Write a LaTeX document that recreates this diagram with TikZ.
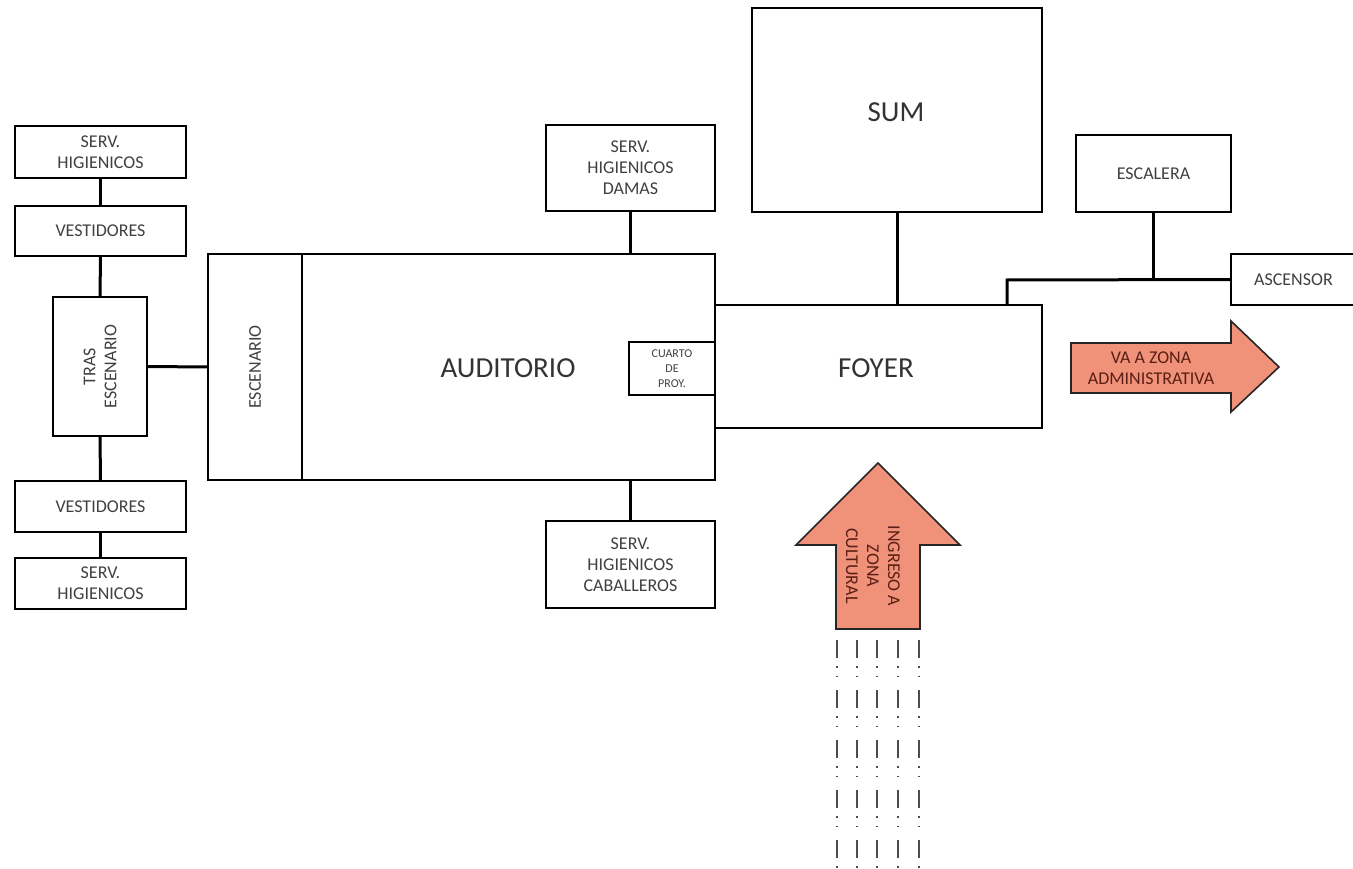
\documentclass[tikz,border=0pt]{standalone}
\usepackage{fontspec}
\setmainfont{Carlito}
\usepackage{xcolor}
\usetikzlibrary{positioning}

\definecolor{salmon}{RGB}{240,146,122}
\definecolor{arrowtext}{RGB}{90,30,20}

\begin{document}
\begin{tikzpicture}[
    x=1pt, y=-1pt,
    font=\fontsize{18}{21}\selectfont,
    box/.style={draw, line width=1.8pt, align=center, inner sep=2pt, text=black!75},
    lbl/.style={align=center, text=black!75},
    big/.style={font=\fontsize{29}{34}\selectfont, text=black!80},
    link/.style={line width=3pt},
    bigarrow/.style={draw=black!85, line width=1.6pt, fill=salmon, line join=miter},
    arrowlbl/.style={align=center, text=arrowtext, font=\fontsize{18}{21}\selectfont},
    trail/.style={line width=2pt, black!70,
                  dash pattern=on 18pt off 8pt on 1.5pt off 8pt on 1.5pt off 13pt},
  ]
  \useasboundingbox (0,0) rectangle (1353,869);

  % backstage column
  \node[box, minimum width=171, minimum height=52] (shtop)   at (100.5,152) {SERV.\\HIGIENICOS};
  \node[box, minimum width=171, minimum height=50] (vesttop) at (100.5,231) {VESTIDORES};
  \node[box, minimum width=94,  minimum height=139] (tras)   at (100,366.5) {};
  \node[lbl, rotate=90] at (tras) {TRAS\\ESCENARIO};
  \node[box, minimum width=171, minimum height=51] (vestbot) at (100.5,506.5) {VESTIDORES};
  \node[box, minimum width=171, minimum height=51] (shbot)   at (100.5,583.5) {SERV.\\HIGIENICOS};

  % stage and hall
  \node[box, minimum width=94,  minimum height=226] (escenario) at (255,367) {};
  \node[lbl, rotate=90] at (escenario) {ESCENARIO};
  \node[box, minimum width=413, minimum height=226] (auditorio) at (508.5,367) {};
  \node[big] at (508,368) {AUDITORIO};
  \node[box, minimum width=86, minimum height=53, inner sep=0pt, font=\fontsize{12}{15}\selectfont]
    (proy) at (672,368.5) {CUARTO\\DE\\PROY.};

  \node[box, minimum width=169, minimum height=86] (damas)      at (630.5,168) {SERV.\\HIGIENICOS\\DAMAS};
  \node[box, minimum width=169, minimum height=87] (caballeros) at (630.5,564.5) {SERV.\\HIGIENICOS\\CABALLEROS};

  % foyer side
  \node[box, minimum width=327, minimum height=123] (foyer) at (878.5,366.5) {};
  \node[big] at (876,368) {FOYER};
  \node[box, minimum width=290, minimum height=204] (sum) at (897,110) {};
  \node[big] at (896,112) {SUM};
  \node[box, minimum width=155, minimum height=77] (escalera) at (1153.5,173.5) {ESCALERA};
  \node[box, minimum width=125, minimum height=51] (ascensor) at (1293.5,279.5) {ASCENSOR};

  % links
  \draw[link] (shtop.south) -- (vesttop.north);
  \draw[link] (vesttop.south) -- (tras.north);
  \draw[link] (tras.south) -- (vestbot.north);
  \draw[link] (vestbot.south) -- (shbot.north);
  \draw[link] (tras.east) -- (escenario.west);
  \draw[link] (damas.south) -- (damas.south |- auditorio.north);
  \draw[link] (caballeros.north) -- (caballeros.north |- auditorio.south);
  \draw[link] (sum.south) -- (sum.south |- foyer.north);
  \coordinate (bend) at (1007,280);
  \draw[link] (escalera.south) -- (escalera.south |- ascensor.west);
  \draw[link] (ascensor.west) -- (bend) -- (bend |- foyer.north);

  % arrows
  \draw[bigarrow] (1071,343) -- (1231,343) -- (1231,321) -- (1279,367)
    -- (1231,412) -- (1231,393) -- (1071,393) -- cycle;
  \node[arrowlbl] (admin) at (1151,368) {VA A ZONA\\ADMINISTRATIVA};

  \draw[bigarrow] (836,629) -- (836,545) -- (796,545) -- (878,463)
    -- (960,545) -- (920,545) -- (920,629) -- cycle;
  \node[arrowlbl, rotate=-90] (ingreso) at (873,566) {INGRESO A\\ZONA\\CULTURAL};

  \foreach \x in {837,857,877,898,919}
    \draw[trail] (\x,640) -- (\x,869);

\end{tikzpicture}
\end{document}
